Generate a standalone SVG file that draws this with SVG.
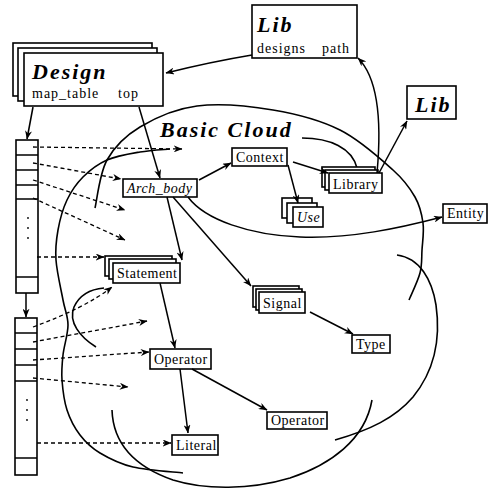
<svg xmlns="http://www.w3.org/2000/svg" width="492" height="494" viewBox="0 0 492 494">
<style>
.box{fill:#fff;stroke:#000;stroke-width:1.6}
.ln{fill:none;stroke:#000;stroke-width:1.5}
.cl{fill:none;stroke:#000;stroke-width:1.6}
.ds{fill:none;stroke:#000;stroke-width:1.3;stroke-dasharray:4 3}
.t{font-family:"Liberation Serif","Times New Roman",serif;font-size:14px;letter-spacing:0.5px;fill:#000}
.it{font-style:italic}
.big{font-family:"Liberation Serif","Times New Roman",serif;font-size:22px;font-weight:bold;font-style:italic;letter-spacing:2px;fill:#000}
.mid{font-family:"Liberation Serif","Times New Roman",serif;font-size:14px;letter-spacing:1px;fill:#000}
</style>
<defs>
<marker id="ah" viewBox="0 0 10 8" refX="9.5" refY="4" markerWidth="9" markerHeight="7" orient="auto" markerUnits="userSpaceOnUse">
<path d="M0,0 L10,4 L0,8 L3,4 z" fill="#000"/>
</marker>
</defs>
<rect width="492" height="494" fill="#fff"/>

<g id="cloud">
<path class="cl" d="M95,208 C97,200 99.5,173.5 107,160 C114.5,146.5 125,136 140,127 C155,118 174.8,108.8 197,106 C219.2,103.2 249.2,106 273,110 C296.8,114 320,120 340,130 C360,140 380.5,158.8 393,170 C405.5,181.2 410,188.2 415,197 C420,205.8 421.8,214.2 423,223 C424.2,231.8 422.5,241.7 422,250 C421.5,258.3 422.2,264.7 420,273 C417.8,281.3 410.8,295.5 409,300"/>
<path class="cl" d="M170,149 C165,149.5 150.5,150.2 140,152 C129.5,153.8 116.5,155.8 107,160 C97.5,164.2 89.7,170.3 83,177 C76.3,183.7 71.2,191.2 67,200 C62.8,208.8 59.8,220 58,230 C56.2,240 55.2,248.3 56,260 C56.8,271.7 61,289.2 63,300 C65,310.8 68,315.8 68,325 C68,334.2 64,345.8 63,355 C62,364.2 61.3,370.8 62,380 C62.7,389.2 64,400.8 67,410 C70,419.2 74.5,427.8 80,435 C85.5,442.2 91.2,447.7 100,453 C108.8,458.3 119.2,463.7 133,467 C146.8,470.3 174.7,472 183,473"/>
<path class="cl" d="M302,138 C330,138 352,148 357,168"/>
<path class="cl" d="M397,255 C420,258 432,280 436,305 C441,340 435,370 413,397 C395,418 370,430 335,440"/>
<path class="cl" d="M112,410 C113,440 130,465 173,480 C205,490 250,490 290,478 C330,465 365,440 372,400"/>
<path class="cl" d="M96,347 C80,337 68,322 74,307 C80,294 92,289 104,288"/>
<text class="big" x="160" y="137">Basic Cloud</text>
</g>

<g id="design">
<rect class="box" x="13" y="43" width="139" height="53"/>
<rect class="box" x="18" y="48" width="139" height="53"/>
<rect class="box" x="24" y="53" width="139" height="53"/>
<text class="big" x="32" y="79">Design</text>
<text class="mid" x="32" y="98">map_table</text>
<text class="mid" x="118" y="98">top</text>
</g>

<g id="lib1">
<rect class="box" x="252" y="5" width="105" height="53"/>
<text class="big" x="257" y="32">Lib</text>
<text class="mid" x="257" y="53">designs</text>
<text class="mid" x="322" y="53">path</text>
</g>

<g id="lib2">
<rect class="box" x="407" y="86" width="49" height="33"/>
<text class="big" x="415" y="112">Lib</text>
</g>

<g id="table1">
<rect class="box" x="16" y="140" width="22" height="153"/>
<path class="ln" d="M16,155 H38 M16,170 H38 M16,185 H38 M16,199 H38 M16,277 H38"/>
<circle cx="28" cy="218" r="0.9"/><circle cx="28" cy="228" r="0.9"/><circle cx="28" cy="238" r="0.9"/>
</g>

<g id="table2">
<rect class="box" x="15" y="318" width="22" height="157"/>
<path class="ln" d="M15,333 H37 M15,349 H37 M15,365 H37 M15,381 H37 M15,458 H37"/>
<circle cx="27" cy="400" r="0.9"/><circle cx="27" cy="410" r="0.9"/><circle cx="27" cy="420" r="0.9"/>
</g>

<g id="context">
<rect class="box" x="232" y="148" width="55" height="18"/>
<text class="t" x="236" y="162">Context</text>
</g>

<g id="arch_body">
<rect class="box" x="123" y="179" width="74" height="18"/>
<text class="t it" x="127" y="193">Arch_body</text>
</g>

<g id="library">
<rect class="box" x="322" y="167" width="53" height="20"/>
<rect class="box" x="325" y="170" width="53" height="20"/>
<rect class="box" x="329" y="173" width="53" height="20"/>
<text class="t" x="333" y="189">Library</text>
</g>

<g id="use">
<rect class="box" x="282" y="198" width="30" height="20"/>
<rect class="box" x="287" y="203" width="30" height="20"/>
<rect class="box" x="293" y="207" width="30" height="20"/>
<text class="t it" x="297" y="222">Use</text>
</g>

<g id="entity">
<rect class="box" x="443" y="204" width="44" height="19"/>
<text class="t" x="447" y="218">Entity</text>
</g>

<g id="statement">
<rect class="box" x="105" y="256" width="67" height="20"/>
<rect class="box" x="109" y="259" width="67" height="20"/>
<rect class="box" x="113" y="263" width="67" height="20"/>
<text class="t" x="117" y="278">Statement</text>
</g>

<g id="signal">
<rect class="box" x="253" y="286" width="46" height="21"/>
<rect class="box" x="256" y="289" width="46" height="21"/>
<rect class="box" x="259" y="292" width="46" height="21"/>
<text class="t" x="263" y="308">Signal</text>
</g>

<g id="type">
<rect class="box" x="352" y="335" width="38" height="18"/>
<text class="t" x="356" y="349">Type</text>
</g>

<g id="operator1">
<rect class="box" x="150" y="349" width="61" height="20"/>
<text class="t" x="154" y="364">Operator</text>
</g>

<g id="operator2">
<rect class="box" x="267" y="412" width="60" height="17"/>
<text class="t" x="271" y="425">Operator</text>
</g>

<g id="literal">
<rect class="box" x="172" y="435" width="46" height="20"/>
<text class="t" x="176" y="450">Literal</text>
</g>

<g id="connectors">
<path class="ln" marker-end="url(#ah)" d="M252,55 Q210,62 166,73"/>
<path class="ln" marker-end="url(#ah)" d="M377,173 C381,130 380,80 358,58"/>
<path class="ln" marker-end="url(#ah)" d="M379,173 L407,121"/>
<path class="ln" marker-end="url(#ah)" d="M33,107 L27,139"/>
<path class="ln" marker-end="url(#ah)" d="M26,293 L26,317"/>
<path class="ln" marker-end="url(#ah)" d="M139,107 L160,178"/>
<path class="ln" marker-end="url(#ah)" d="M199,180 L231,163"/>
<path class="ln" marker-end="url(#ah)" d="M288,165 L298,203"/>
<path class="ln" marker-end="url(#ah)" d="M293,162 L328,173"/>
<path class="ln" marker-end="url(#ah)" d="M188,197 C205,220 250,235 300,237 C350,239 400,228 442,217"/>
<path class="ln" marker-end="url(#ah)" d="M167,197 L182,260"/>
<path class="ln" marker-end="url(#ah)" d="M173,197 L251,286"/>
<path class="ln" marker-end="url(#ah)" d="M310,312 L353,334"/>
<path class="ln" marker-end="url(#ah)" d="M160,283 L175,348"/>
<path class="ln" marker-end="url(#ah)" d="M180,369 L188,433"/>
<path class="ln" marker-end="url(#ah)" d="M192,369 L267,410"/>
<path class="ds" marker-end="url(#ah)" d="M33,147 L182,149"/>
<path class="ds" marker-end="url(#ah)" d="M33,163 L121,179"/>
<path class="ds" marker-end="url(#ah)" d="M33,180 L125,210"/>
<path class="ds" marker-end="url(#ah)" d="M33,198 L125,240"/>
<path class="ds" marker-end="url(#ah)" d="M37,257 L104,257"/>
<path class="ds" marker-end="url(#ah)" d="M33,327 Q85,308 112,287"/>
<path class="ds" marker-end="url(#ah)" d="M33,342 L147,321"/>
<path class="ds" marker-end="url(#ah)" d="M33,360 L149,352"/>
<path class="ds" marker-end="url(#ah)" d="M33,378 L128,387"/>
<path class="ds" marker-end="url(#ah)" d="M37,443 L171,443"/>
</g>
</svg>
